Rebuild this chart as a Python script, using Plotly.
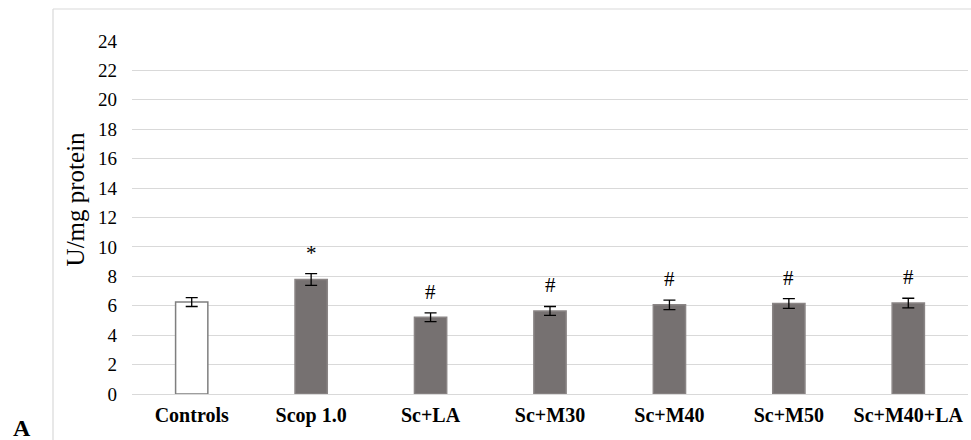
import plotly.graph_objects as go

categories = ["Controls", "Scop 1.0", "Sc+LA", "Sc+M30", "Sc+M40", "Sc+M50", "Sc+M40+LA"]
values = [6.25, 7.78, 5.22, 5.65, 6.06, 6.15, 6.18]
errors = [0.30, 0.40, 0.30, 0.30, 0.32, 0.33, 0.33]
marks = ["", "*", "#", "#", "#", "#", "#"]
y_ticks = list(range(0, 25, 2))

SERIF = "Times New Roman, Liberation Serif, DejaVu Serif, serif"
fill_colors = ["#ffffff"] + ["#767171"] * 6
line_colors = ["#7f7f7f"] + ["#8a8585"] * 6

fig = go.Figure()
fig.add_trace(go.Bar(
    x=categories, y=values,
    width=0.27,
    marker=dict(color=fill_colors, line=dict(color=line_colors, width=1.5)),
    error_y=dict(type="data", array=errors, visible=True, color="#000000", thickness=1.3, width=6),
    showlegend=False,
))

for c, v, e, m in zip(categories, values, errors, marks):
    if m:
        fig.add_annotation(x=c, y=v + e, text=m, showarrow=False, yanchor="bottom", yshift=7,
                           font=dict(family=SERIF, size=21, color="#000000"))

fig.add_annotation(xref="paper", yref="paper", x=-0.1445, y=-0.095, text="<b>A</b>", showarrow=False,
                   xanchor="left", yanchor="middle",
                   font=dict(family=SERIF, size=24, color="#000000"))

# y axis title
fig.add_annotation(xref="paper", yref="paper", x=-0.0682, y=0.554, text="U/mg protein", showarrow=False,
                   textangle=-90, xanchor="center", yanchor="middle",
                   font=dict(family=SERIF, size=25, color="#000000"))

# outer chart frame (left and top edges)
fig.add_shape(type="line", xref="paper", yref="paper", x0=-0.0945, x1=-0.0945, y0=-0.2, y1=1.0907,
              line=dict(color="#d9d9d9", width=1.2))
fig.add_shape(type="line", xref="paper", yref="paper", x0=-0.0945, x1=1.01, y0=1.0907, y1=1.0907,
              line=dict(color="#d9d9d9", width=1.2))

fig.update_layout(
    width=971, height=440,
    margin=dict(l=132, r=3, t=41, b=46),
    plot_bgcolor="#ffffff", paper_bgcolor="#ffffff",
    font=dict(family=SERIF, color="#000000"),
)
fig.update_xaxes(
    showgrid=False, showline=False, ticks="",
    tickfont=dict(family=SERIF, size=20, color="#000000", weight="bold"),
    ticklabelstandoff=7,
)
fig.update_yaxes(
    range=[0, 24], tickvals=y_ticks, showgrid=True, gridcolor="#d9d9d9", gridwidth=1,
    zeroline=True, zerolinecolor="#d9d9d9", zerolinewidth=1.2,
    tickfont=dict(family=SERIF, size=19, color="#000000"),
    ticklabelstandoff=14,
)

fig.write_html("out.html")
